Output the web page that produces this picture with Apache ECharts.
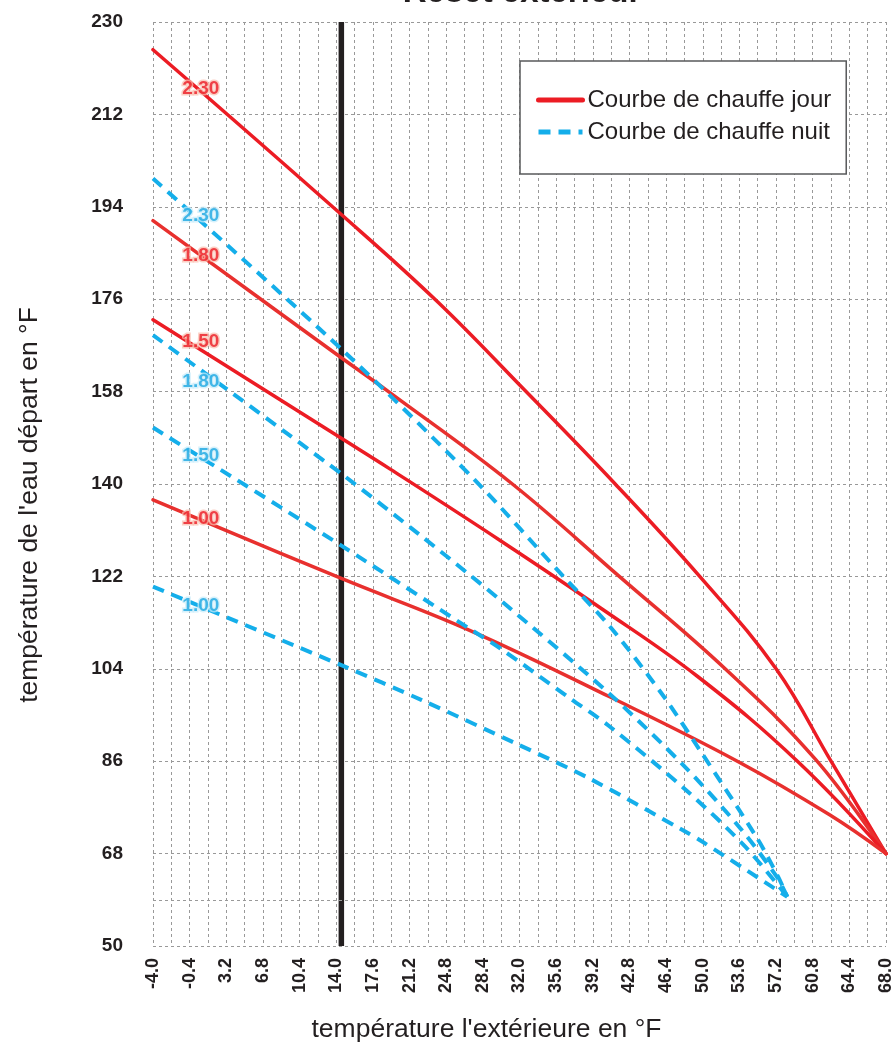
<!DOCTYPE html>
<html>
<head>
<meta charset="utf-8">
<script src="https://cdn.jsdelivr.net/npm/echarts@6/dist/echarts.min.js"></script>
<style>html,body{margin:0;padding:0;background:#fff}#c{width:896px;height:1043px}</style>
</head>
<body>
<div id="c"></div>
<script>
// ---- tick labels ----
const xTickLabels = ['-4.0','-0.4','3.2','6.8','10.4','14.0','17.6','21.2','24.8','28.4','32.0','35.6','39.2','42.8','46.4','50.0','53.6','57.2','60.8','64.4','68.0'];
const yTickLabels = ['50','68','86','104','122','140','158','176','194','212','230'];

// ---- day curves (outside °F, flow °F) ----
const day230 = [[-4,224.6],[14.5,192.5],[23.9,175.6],[32.5,158.3],[41.4,140],[49.7,122],[57.2,104],[62.6,86],[68,68]];
const day180 = [[-4,191.3],[14.5,164.6],[19.2,157.9],[31.3,140],[41.8,122],[52.2,104],[61.1,86.3],[68,68]];
const day150 = [[-4,172.0],[14.5,148.9],[19.3,142.9],[30.1,129.0],[40.0,115.8],[49.5,102.5],[59.3,86],[68,68]];
const day100 = [[-4,136.9],[14.5,121.6],[27.1,111.5],[40.9,98.5],[53.4,86],[62.5,75.5],[68,68]];

// ---- night curves ----
const night230 = [[-4,199.5],[14.5,166.3],[27.6,140.8],[36.3,122],[40.9,112.2],[46.1,98.8],[49.7,88.2],[55.4,70.8],[57.4,63.5],[58.3,59.6]];
const night180 = [[-4,169],[14.5,142],[22.2,130.1],[27.1,122.3],[30.1,117.4],[40.8,99.2],[48.3,84.8],[53.7,72.9],[57.3,63.4],[58.3,59.6]];
const night150 = [[-4,151],[14.5,128],[27.1,111.8],[30.1,108.0],[37,98.2],[40.7,93.0],[48.4,80.3],[54.2,69.3],[58.3,59.6]];
const night100 = [[-4,120],[14.5,104.7],[22.4,97.9],[31.7,89.4],[38.9,82.6],[48.1,72.5],[49.9,70.4],[58.3,59.6]];

// ---- curve labels ----
const curveLabels = ['2.30','1.80','1.50','1.00'];
const labelX = 0.7;
const dayLabelY = [217.0, 184.5, 167.7, 133.2];
const nightLabelY = [192.3, 159.9, 145.5, 116.2];

// ---- reference lines ----
const designTemp = 14.5;
const extraGridY = 59;

const dayName = 'Courbe de chauffe jour';
const nightName = 'Courbe de chauffe nuit';
const RED = '#EC1C24', RED2 = '#E8302E', BLUE = '#14AEEA', BLACK = '#231F20';
const sans = "'Liberation Sans',Arial,sans-serif";

const yMin = Number(yTickLabels[0]), yMax = Number(yTickLabels[yTickLabels.length-1]);
const xMin = Number(xTickLabels[0]), xMax = Number(xTickLabels[xTickLabels.length-1]);
const xStep = Number(xTickLabels[1]) - Number(xTickLabels[0]);

function daySeries(data, color){
  return {type:'line', name:dayName, data, smooth:0.4, symbol:'none', showSymbol:false,
    lineStyle:{color, width:3.5, cap:'round'}, itemStyle:{color}, z:3, silent:true};
}
function nightSeries(data){
  return {type:'line', name:nightName, data, smooth:0.3, symbol:'none', showSymbol:false,
    lineStyle:{color:BLUE, width:4, type:[12,8], cap:'butt'}, itemStyle:{color:BLUE}, z:4, silent:true};
}
function labelSeries(ys, color, halo){
  return {type:'scatter', name:'labels', symbol:'rect', symbolSize:1, itemStyle:{color:'rgba(0,0,0,0)'}, z:6, silent:true,
    data: ys.map((y,i)=>[labelX, y, curveLabels[i]]),
    label:{show:true, position:'inside', formatter:p=>p.value[2], color, fontWeight:'bold', fontSize:19,
      fontFamily:sans, textBorderColor:halo, textBorderWidth:3}};
}

const chart = echarts.init(document.getElementById('c'), null, {renderer:'canvas'});
chart.setOption({
  backgroundColor:'#fff',
  animation:false,
  title:{text:'Reset extérieur', left:517, top:-29, textAlign:'center',
    textStyle:{fontSize:33, fontWeight:'bold', color:BLACK, fontFamily:sans}},
  grid:{left:153, right:10, top:22, bottom:97, containLabel:false, outerBoundsMode:'none'},
  legend:{data:[dayName, nightName], orient:'vertical', left:520, top:61,
    padding:[27,15,30,16], itemGap:8, itemWidth:44, itemHeight:14,
    backgroundColor:'#fff', borderColor:'#58595B', borderWidth:1.5,
    lineStyle:{width:5}, itemStyle:{opacity:0},
    textStyle:{fontSize:24, color:BLACK, fontFamily:sans}},
  xAxis:{type:'value', min:xMin, max:xMax, interval:xStep/2,
    name:"température l'extérieure en °F", nameLocation:'middle', nameGap:70,
    nameTextStyle:{fontSize:26.5, color:BLACK, fontFamily:sans, padding:[0,66,0,0]},
    axisLine:{show:false}, axisTick:{show:false},
    axisLabel:{rotate:90, margin:12, fontSize:18, fontWeight:'bold', color:BLACK, fontFamily:sans,
      formatter:v=>{const l = xTickLabels.find(s=>Math.abs(Number(s)-v)<0.01); return l===undefined?'':l;}},
    splitLine:{show:true, lineStyle:{color:'#999', width:1, type:[3,3]}}},
  yAxis:{type:'value', min:yMin, max:yMax, interval:Number(yTickLabels[1])-Number(yTickLabels[0]),
    name:"température de l'eau départ en °F", nameLocation:'middle', nameGap:110, nameRotate:90,
    nameTextStyle:{fontSize:26.5, color:BLACK, fontFamily:sans, padding:[0,42,0,0]},
    axisLine:{show:false}, axisTick:{show:false},
    axisLabel:{margin:30, fontSize:19, fontWeight:'bold', color:BLACK, fontFamily:sans,
      formatter:v=>{const l = yTickLabels.find(s=>Math.abs(Number(s)-v)<0.01); return l===undefined?'':l;}},
    splitLine:{show:true, lineStyle:{color:'#999', width:1, type:[3,3]}}},
  series:[
    {type:'line', name:'design', data:[[designTemp,yMin],[designTemp,yMax]], symbol:'none', silent:true, z:2,
      lineStyle:{color:BLACK, width:5.5}, itemStyle:{color:BLACK},
      markLine:{silent:true, symbol:'none', label:{show:false},
        lineStyle:{color:'#999', width:1, type:[3,3]}, data:[{yAxis:extraGridY}]}},
    daySeries(day230, RED),
    daySeries(day180, RED2),
    daySeries(day150, RED),
    daySeries(day100, RED2),
    nightSeries(night230),
    nightSeries(night180),
    nightSeries(night150),
    nightSeries(night100),
    labelSeries(dayLabelY, RED, 'rgba(250,190,175,0.9)'),
    labelSeries(nightLabelY, '#1BA8E2', 'rgba(200,235,250,0.9)')
  ]
});
</script>
</body>
</html>
